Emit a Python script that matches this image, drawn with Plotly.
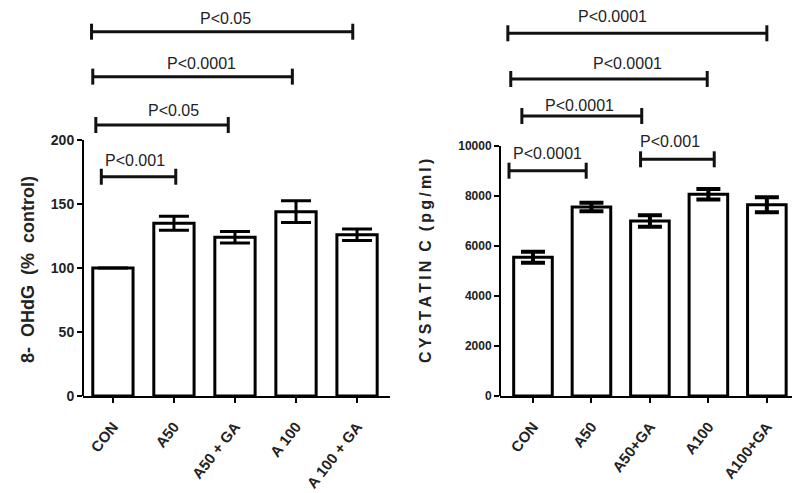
import plotly.graph_objects as go

# ---------------- data ----------------
cats_left = ["CON", "A50", "A50 + GA", "A 100", "A 100 + GA"]
ohdg_mean = [100, 135, 124, 144, 126]
ohdg_err = [0, 5.5, 4.5, 8.5, 4.5]

cats_right = ["CON", "A50", "A50+GA", "A100", "A100+GA"]
cys_mean = [5550, 7560, 7000, 8070, 7650]
cys_err = [220, 170, 230, 210, 300]

# significance comparisons: start, end (category position), bracket level, label, label position
left_start = [-0.35, -0.33, -0.28, -0.19]
left_end = [3.93, 2.94, 1.89, 1.03]
left_level = [284.6, 249.5, 211.7, 171.3]
left_label = ["P<0.05", "P<0.0001", "P<0.05", "P<0.001"]
left_label_x = [1.84, 1.45, 0.99, 0.36]
left_label_y = [295, 260, 223.4, 184]

right_start = [-0.43, -0.38, -0.19, -0.41, 1.84]
right_end = [4.0, 2.98, 1.86, 0.91, 3.10]
right_level = [14508, 12680, 11200, 9012, 9468]
right_label = ["P<0.0001", "P<0.0001", "P<0.0001", "P<0.0001", "P<0.001"]
right_label_x = [1.36, 1.62, 0.79, 0.24, 2.35]
right_label_y = [15172, 13320, 11640, 9708, 10172]

left_title = "8-\u00a0 OHdG\u00a0 (%\u00a0 control)"
right_title = "\u2009".join("CYSTATIN") + "\u00a0\u00a0C\u00a0\u00a0" + "\u2009".join("(pg/ml)")

FONT = "Liberation Sans, Arial, sans-serif"
W, H = 800, 493


def px_x(p):
    return p / W


def px_y(p):
    return (H - p) / H


fig = go.Figure()

pos = list(range(5))

fig.add_trace(go.Bar(
    x=pos, y=ohdg_mean, width=0.66,
    marker=dict(color="white", line=dict(color="black", width=3)),
    error_y=dict(type="data", array=ohdg_err, visible=True, color="black", thickness=3, width=15),
    xaxis="x", yaxis="y", showlegend=False,
))
fig.add_trace(go.Bar(
    x=pos, y=cys_mean, width=0.66,
    marker=dict(color="white", line=dict(color="black", width=3)),
    error_y=dict(type="data", array=cys_err, visible=True, color="black", thickness=4, width=12),
    xaxis="x2", yaxis="y2", showlegend=False,
))


def brackets(starts, ends, levels, half, xa, ya):
    xs, ys = [], []
    for s, e, l in zip(starts, ends, levels):
        xs += [s, e, None, s, s, None, e, e, None]
        ys += [l, l, None, l - half, l + half, None, l - half, l + half, None]
    fig.add_trace(go.Scatter(x=xs, y=ys, mode="lines", line=dict(color="#111", width=3),
                             xaxis=xa, yaxis=ya, showlegend=False, hoverinfo="skip"))


brackets(left_start, left_end, left_level, 6.25, "x", "y")
brackets(right_start, right_end, right_level, 320, "x2", "y2")

annotations = []
for t, x, y in zip(left_label, left_label_x, left_label_y):
    annotations.append(dict(text=t, x=x, y=y, xref="x", yref="y", showarrow=False,
                            font=dict(family=FONT, size=16, color="#222")))
for t, x, y in zip(right_label, right_label_x, right_label_y):
    annotations.append(dict(text=t, x=x, y=y, xref="x2", yref="y2", showarrow=False,
                            font=dict(family=FONT, size=16, color="#222")))

annotations.append(dict(text=left_title, textangle=-90, x=px_x(16), y=px_y(270),
                        xref="paper", yref="paper", showarrow=False,
                        font=dict(family=FONT, size=18, color="#222", weight="bold")))
annotations.append(dict(text=right_title, textangle=-90, x=px_x(425), y=px_y(261),
                        xref="paper", yref="paper", showarrow=False,
                        font=dict(family=FONT, size=16, color="#222", weight="bold")))

shapes = [
    dict(type="line", xref="x domain", yref="y", x0=0, x1=0, y0=0, y1=200,
         line=dict(color="black", width=2)),
    dict(type="line", xref="x2 domain", yref="y2", x0=0, x1=0, y0=0, y1=10000,
         line=dict(color="black", width=2)),
]

axis_common = dict(showgrid=False, zeroline=False, ticks="outside", ticklen=5, tickwidth=2,
                   tickcolor="black", automargin=False)
xtickfont = dict(family=FONT, size=15, color="#222", weight="bold")

fig.update_layout(
    template="none",
    width=W, height=H,
    margin=dict(l=0, r=0, t=0, b=0, pad=0, autoexpand=False),
    paper_bgcolor="white", plot_bgcolor="white",
    showlegend=False,
    xaxis=dict(domain=[px_x(83), px_x(390)], range=[-0.49, 4.54], tickvals=pos, ticktext=cats_left,
               tickangle=-52, ticklabelstandoff=9, showline=True, linewidth=2, linecolor="black",
               anchor="y", tickfont=xtickfont, **axis_common),
    yaxis=dict(domain=[px_y(396), 1], range=[0, 396 / 1.28], tickvals=[0, 50, 100, 150, 200],
               showline=False, anchor="x",
               tickfont=dict(family=FONT, size=14, color="#222", weight="bold"), **axis_common),
    xaxis2=dict(domain=[px_x(500), px_x(792)], range=[-0.564, 4.43], tickvals=pos, ticktext=cats_right,
                tickangle=-52, ticklabelstandoff=9, showline=True, linewidth=2, linecolor="black",
                anchor="y2", tickfont=xtickfont, **axis_common),
    yaxis2=dict(domain=[px_y(396), 1], range=[0, 396 / 0.025], tickvals=[0, 2000, 4000, 6000, 8000, 10000],
                tickformat="d", showline=False, anchor="x2",
                tickfont=dict(family=FONT, size=12, color="#222", weight="bold"), **axis_common),
    annotations=annotations,
    shapes=shapes,
)

fig.write_html("out.html", config={"displayModeBar": False},
               post_script="document.body.style.margin='0px';")
